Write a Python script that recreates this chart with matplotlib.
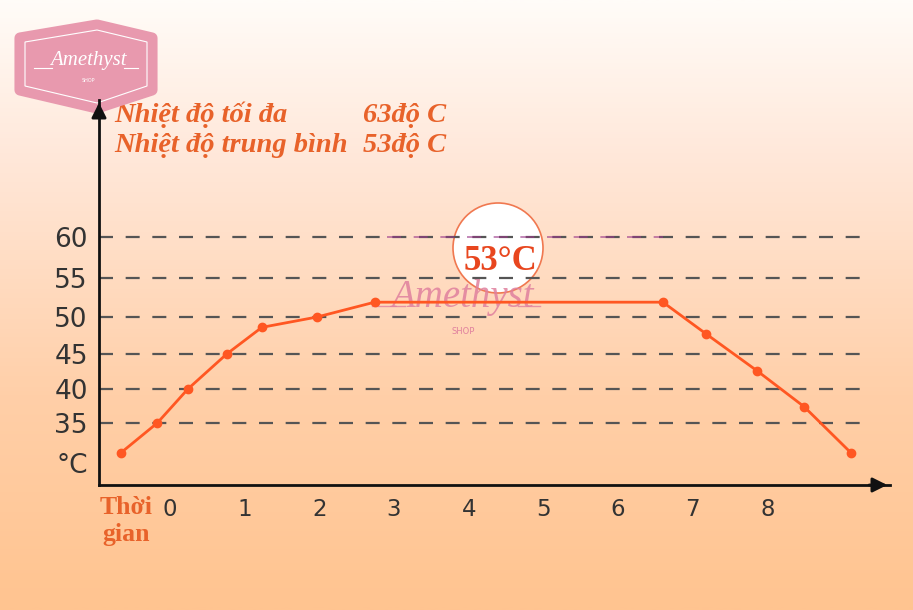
import numpy as np
import matplotlib
matplotlib.use("Agg")
import matplotlib.pyplot as plt
from matplotlib.colors import LinearSegmentedColormap
from matplotlib.patches import Polygon, Circle

# data
times = [-0.66, -0.17, 0.24, 0.76, 1.23, 1.97, 2.74, 6.60, 7.18, 7.86, 8.49, 9.12]
temps = [31.25, 35.0, 40.0, 45.0, 48.6, 50.0, 51.9, 51.9, 47.7, 42.6, 37.4, 31.25]
y_ticks = [30, 35, 40, 45, 50, 55, 60]
y_labels = ["°C", "35", "40", "45", "50", "55", "60"]
x_ticks = [0, 1, 2, 3, 4, 5, 6, 7, 8]

# the printed y axis is not quite evenly spaced: knots = value -> pixels above x axis
knot_v = [25, 30, 35, 40, 45, 50, 55, 60, 65, 80]
knot_px = [-18, 22, 62, 96, 131, 168, 207, 248, 288, 408]


def fwd(v):
    return np.interp(v, knot_v, knot_px)


def inv(p):
    return np.interp(p, knot_px, knot_v)


W, H = 913, 610
fig = plt.figure(figsize=(W / 100, H / 100), dpi=100)

# background gradient
bg = fig.add_axes([0, 0, 1, 1])
cmap = LinearSegmentedColormap.from_list(
    "bg", [(0, "#fffcf8"), (0.25, "#ffe8da"), (0.65, "#ffcfa8"), (1, "#ffc490")])
grad = np.linspace(0, 1, 300).reshape(-1, 1)
bg.imshow(grad, aspect="auto", cmap=cmap, extent=[0, W, H, 0])
bg.set_xlim(0, W)
bg.set_ylim(H, 0)
bg.axis("off")


def fx(px):
    return px / W


def fy(py):
    return 1 - py / H


# main axes in pixel placement
left, right, bottom, top = 99, 890, 485, 100
ax = fig.add_axes([fx(left), fy(bottom), fx(right) - fx(left), fy(top) - fy(bottom)])
ax.patch.set_alpha(0)
ax.set_yscale("function", functions=(fwd, inv))
ax.set_xlim(-0.95, 9.64)
ax.set_ylim(inv(0), inv(bottom - top))

for s in ["top", "right"]:
    ax.spines[s].set_visible(False)
for s in ["left", "bottom"]:
    ax.spines[s].set_linewidth(2)
    ax.spines[s].set_color("#111111")

# arrow heads
ax.annotate("", xy=(1.0, 0), xytext=(0.97, 0), xycoords="axes fraction",
            arrowprops=dict(arrowstyle="-|>", color="#111111", lw=2, mutation_scale=22))
ax.annotate("", xy=(0, 1.0), xytext=(0, 0.95), xycoords="axes fraction",
            arrowprops=dict(arrowstyle="-|>", color="#111111", lw=2, mutation_scale=22))

# dashed guides
for v in y_ticks[1:]:
    ax.plot([-0.95, 9.35], [v, v], color="#555555", lw=1.6, dashes=(6.3, 5.7), zorder=1)
ax.plot([2.9, 6.6], [60, 60], color="#9b3a8a", lw=1.2, dashes=(8.4, 7.6), alpha=0.7, zorder=1)

ax.plot(times, temps, color="#ff5722", lw=2, marker="o", markersize=6, zorder=3)

ax.set_yticks(y_ticks)
ax.set_yticklabels(y_labels)
ax.set_xticks(x_ticks)
ax.tick_params(axis="both", length=0, labelcolor="#333333")
ax.tick_params(axis="y", pad=8, labelsize=19)
ax.tick_params(axis="x", pad=9, labelsize=16.5)

# annotation circle
circ = Circle((498, 248), 45, transform=bg.transData, facecolor="white",
              edgecolor="#f07850", lw=1.2, zorder=5)
bg.add_patch(circ)
bg.text(500, 262, "53°C", ha="center", va="center", fontsize=25, fontweight="bold",
        family="Liberation Serif", color="#e8461e", zorder=6)

# watermark
bg.text(462, 298, "Amethyst", ha="center", va="center", fontsize=28, style="italic",
        family="Liberation Serif", color="#e0809e", alpha=0.85, zorder=7)
bg.plot([372, 405], [306, 306], color="#e0809e", lw=1, alpha=0.8, zorder=7)
bg.plot([518, 540], [306, 306], color="#e0809e", lw=1, alpha=0.8, zorder=7)
bg.text(463, 332, "SHOP", ha="center", va="center", fontsize=6, color="#e0809e", zorder=7)

# header text
orange = "#e8622a"
hdr = dict(fontsize=20.5, fontweight="bold", style="italic", family="Liberation Serif",
           color=orange, va="center", zorder=8)
bg.text(114, 115, "Nhiệt độ tối đa", ha="left", **hdr)
bg.text(446, 115, "63độ C", ha="right", **hdr)
bg.text(114, 146, "Nhiệt độ trung bình", ha="left", **hdr)
bg.text(446, 146, "53độ C", ha="right", **hdr)

bg.text(126, 521, "Thời\ngian", ha="center", va="center", multialignment="center",
        fontsize=18.5, fontweight="bold", family="Liberation Serif", color=orange,
        linespacing=1.2, zorder=8)

# logo badge
badge = [(20, 38), (97, 25), (152, 38), (152, 90), (97, 108), (20, 90)]
bg.add_patch(Polygon(badge, closed=True, facecolor="#e899ae", edgecolor="#e899ae",
                     lw=8, joinstyle="round", zorder=9))
inner = [(25, 42), (97, 30), (147, 42), (147, 86), (97, 103), (25, 86)]
bg.add_patch(Polygon(inner, closed=True, facecolor="none", edgecolor="white",
                     lw=0.8, zorder=10))
bg.text(88, 60, "Amethyst", ha="center", va="center", fontsize=15, style="italic",
        family="Liberation Serif", color="white", zorder=11)
bg.plot([34, 52], [68, 68], color="white", lw=0.8, zorder=11)
bg.plot([124, 138], [68, 68], color="white", lw=0.8, zorder=11)
bg.text(88, 81, "SHOP", ha="center", va="center", fontsize=3.5, color="white", zorder=11)

fig.savefig("out.png", dpi=100)
